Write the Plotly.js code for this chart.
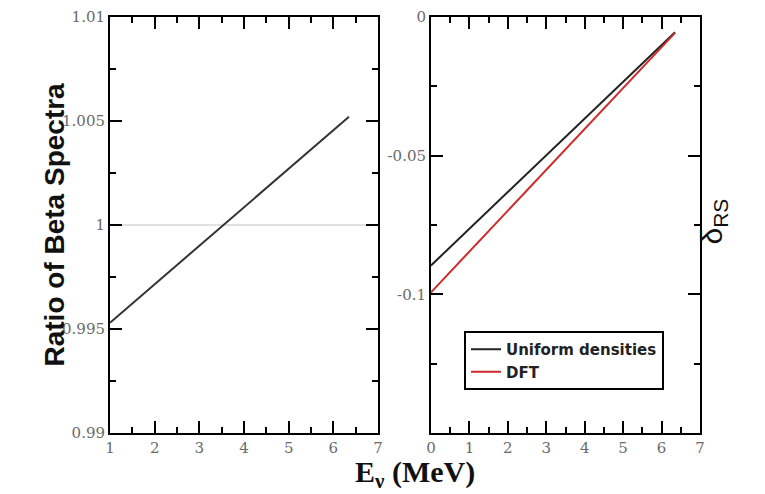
<!DOCTYPE html>
<html>
<head>
<meta charset="utf-8">
<script src="https://cdn.plot.ly/plotly-3.0.1.min.js"></script>
<style>
  html, body { margin: 0; padding: 0; background: #fff; }
  #chart { width: 765px; height: 494px; }
</style>
</head>
<body>
<div id="chart"></div>
<script>
// Left panel: ratio of beta spectra versus neutrino energy
const ratioEnergy = [1.0, 6.35];
const ratioValues = [0.9953, 1.0052];

// Right panel: delta_RS for the two density models
const deltaEnergy = [0.0, 6.35];
const uniformDelta = [-0.0896, -0.0055];
const dftDelta = [-0.0993, -0.0057];

const seriesNames = ['Uniform densities', 'DFT'];

// Tick labels
const leftYTicks = [0.99, 0.995, 1.0, 1.005, 1.01];
const leftYLabels = ['0.99', '0.995', '1', '1.005', '1.01'];
const rightYTicks = [-0.15, -0.1, -0.05, 0];
const rightYLabels = ['', '-0.1', '-0.05', '0'];
const leftXTicks = [1, 2, 3, 4, 5, 6, 7];
const rightXTicks = [0, 1, 2, 3, 4, 5, 6, 7];

const W = 765, H = 494;
const tickFont = { family: 'DejaVu Serif, serif', size: 15, color: '#6a6a6a' };

function frame(extra) {
  return Object.assign({
    showline: true, linewidth: 2, linecolor: '#000', mirror: 'ticks',
    ticks: 'inside', ticklen: 12, tickwidth: 2, tickcolor: '#000',
    showgrid: false, zeroline: false, tickfont: tickFont, fixedrange: true
  }, extra);
}

const traces = [
  {
    x: [1, 7], y: [1, 1], xaxis: 'x', yaxis: 'y', mode: 'lines',
    line: { color: '#c4c4c4', width: 1 }, showlegend: false, hoverinfo: 'skip'
  },
  {
    x: ratioEnergy, y: ratioValues, xaxis: 'x', yaxis: 'y', mode: 'lines',
    line: { color: '#333', width: 2 }, showlegend: false
  },
  {
    x: deltaEnergy, y: uniformDelta, xaxis: 'x2', yaxis: 'y2', mode: 'lines',
    name: seriesNames[0], line: { color: '#222', width: 2 }
  },
  {
    x: deltaEnergy, y: dftDelta, xaxis: 'x2', yaxis: 'y2', mode: 'lines',
    name: seriesNames[1], line: { color: '#cc2b2b', width: 2 }
  }
];

const layout = {
  width: W, height: H,
  margin: { l: 0, r: 0, t: 17, b: 61 },
  paper_bgcolor: '#fff', plot_bgcolor: '#fff',
  showlegend: true,
  legend: {
    x: 464 / W, xanchor: 'left', y: 43 / 416, yanchor: 'bottom',
    bgcolor: '#fff', bordercolor: '#000', borderwidth: 2,
    font: { family: 'DejaVu Sans, sans-serif', size: 15, color: '#222', weight: 'bold' },
    tracegroupgap: 0, itemwidth: 30
  },
  xaxis: frame({
    domain: [110 / W, 378 / W], range: [1, 7], tickvals: leftXTicks,
    minor: { dtick: 0.5, ticks: 'inside', ticklen: 6, tickwidth: 2, tickcolor: '#000' }
  }),
  yaxis: frame({
    domain: [0, 1], range: [0.99, 1.01], tickvals: leftYTicks, ticktext: leftYLabels,
    anchor: 'x',
    minor: { dtick: 0.0025, ticks: 'inside', ticklen: 6, tickwidth: 2, tickcolor: '#000' }
  }),
  xaxis2: frame({
    domain: [431 / W, 700 / W], range: [0, 7], tickvals: rightXTicks, anchor: 'y2',
    minor: { dtick: 0.5, ticks: 'inside', ticklen: 6, tickwidth: 2, tickcolor: '#000' }
  }),
  yaxis2: frame({
    domain: [0, 1], range: [-0.15, 0], tickvals: rightYTicks, ticktext: rightYLabels,
    anchor: 'x2',
    minor: { dtick: 0.025, ticks: 'inside', ticklen: 6, tickwidth: 2, tickcolor: '#000' }
  }),
  annotations: [
    {
      xref: 'paper', yref: 'paper', x: 36 / W, y: (433 - 225) / 416,
      text: '<b>Ratio of Beta Spectra</b>', textangle: -90, showarrow: false,
      font: { family: 'Liberation Sans, Arial, sans-serif', size: 28, color: '#111' }
    },
    {
      xref: 'paper', yref: 'paper', x: 415 / W, y: -(453 - 433) / 416, yanchor: 'top',
      text: '<b>E<sub>ν</sub> (MeV)</b>', showarrow: false,
      font: { family: 'Liberation Serif, Times New Roman, serif', size: 30, color: '#111' }
    },
    {
      xref: 'paper', yref: 'paper', x: 733 / W, y: (433 - 222) / 416,
      text: 'δ<sub>RS</sub>', textangle: -90, showarrow: false,
      font: { family: 'Liberation Sans, Arial, sans-serif', size: 30, color: '#111' }
    }
  ]
};

Plotly.newPlot('chart', traces, layout, { staticPlot: true, displayModeBar: false });
</script>
</body>
</html>
